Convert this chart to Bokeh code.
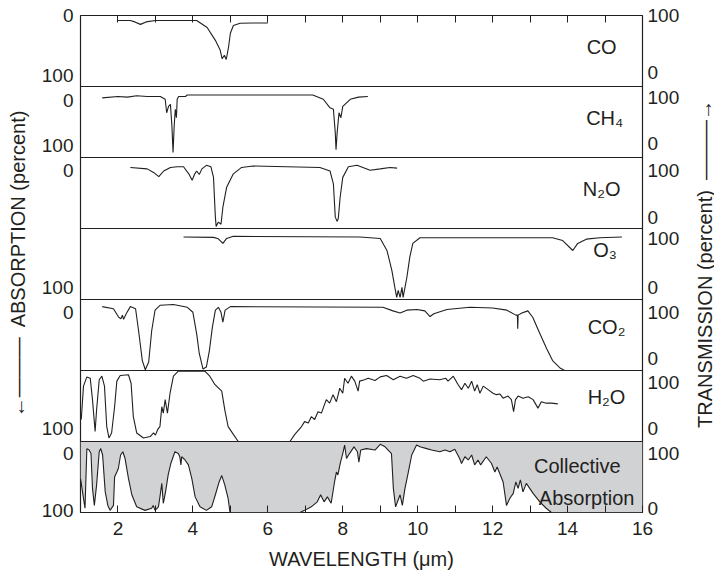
import math
from bokeh.plotting import figure
from bokeh.layouts import row
from bokeh.models import Range1d, LinearAxis, FixedTicker, CustomJSTickFormatter
from bokeh.embed import file_html
from bokeh.resources import INLINE
from bokeh.core.properties import value

# ---------------- data (wavelength in micrometres, absorption in % of panel) -------------
co_wl = [2.0, 2.33, 2.45, 2.6, 2.75, 3.0, 4.1, 4.38, 4.6, 4.73, 4.78, 4.84, 4.89, 4.95, 5.0, 5.08, 5.26, 5.6, 6.0]
co_ab = [7, 7, 9, 12.5, 9, 7, 7, 17, 35, 49, 61, 56, 62, 45, 25, 14, 11, 10.5, 10.5]

ch4_wl = [1.58, 2.0, 2.25, 2.5, 2.78, 3.13, 3.26, 3.30, 3.35, 3.40, 3.44, 3.47, 3.50, 3.53, 3.56, 3.58,
          3.62, 3.80, 3.85, 7.2, 7.48, 7.66, 7.75, 7.80, 7.82, 7.85, 7.90, 7.95, 8.0, 8.2, 8.42, 8.67]
ch4_ab = [16, 14, 15, 13, 14, 14, 18, 37, 28, 25, 56, 93, 56, 32, 44, 18,
          14, 14, 12, 12, 18, 30, 32, 65, 89, 65, 37, 44, 28, 18, 15, 14]

n2o_wl = [2.33, 2.78, 2.95, 3.09, 3.22, 3.40, 3.58, 3.75, 3.89, 3.98, 4.05, 4.10, 4.17, 4.24, 4.36, 4.48,
          4.55, 4.60, 4.62, 4.68, 4.75, 4.80, 4.90, 5.08, 5.30, 5.60, 7.39, 7.66, 7.75, 7.80, 7.85, 7.88,
          7.93, 8.0, 8.15, 8.38, 8.73, 9.0, 9.26, 9.45]
n2o_ab = [14, 16, 21, 27, 19, 14, 13, 13, 23, 32, 23, 19, 24, 16, 11, 13,
          28, 84, 97, 91, 94, 70, 42, 23, 14, 12, 14, 19, 37, 84, 90, 86,
          56, 28, 13, 11, 18, 16, 14, 15]

o3_wl = [3.75, 4.55, 4.68, 4.80, 4.90, 5.08, 8.46, 9.0, 9.18, 9.31, 9.39, 9.44, 9.48, 9.53, 9.58, 9.61,
         9.71, 9.79, 9.87, 10.06, 13.6, 13.87, 14.14, 14.27, 14.5, 14.86, 15.45]
o3_ab = [12, 12.5, 14.5, 21, 14, 11, 12, 14, 31, 59, 83, 97, 87, 97, 83, 97,
         69, 40, 21, 13, 13, 17, 31, 21, 15, 13, 12]

co2_wl = [1.58, 1.88, 2.02, 2.08, 2.12, 2.15, 2.22, 2.33, 2.47, 2.55, 2.65, 2.73, 2.82, 2.90, 2.99, 3.13,
          3.48, 3.85, 4.0, 4.10, 4.17, 4.27, 4.36, 4.44, 4.52, 4.60, 4.68, 4.75, 4.80, 4.86, 5.0, 9.07,
          9.34, 9.53, 9.71, 9.98, 10.19, 10.33, 10.43, 10.78, 11.39, 12.0, 12.38, 12.62, 12.66, 12.67,
          12.68, 12.78, 12.94, 13.07, 13.26, 13.44, 13.6, 13.79, 13.92]
co2_ab = [10, 13, 25, 27, 22, 28, 20, 10, 13, 44, 86, 99, 88, 44, 15, 8,
          7, 11, 18, 48, 76, 98, 95, 72, 39, 15, 11, 18, 32, 15, 10, 11,
          16, 19, 15, 14, 16, 24, 20, 14, 11, 12, 15, 22, 22, 41,
          22, 19, 16, 25, 48, 69, 86, 96, 100]

h2o_wl = [1.02, 1.08, 1.17, 1.26, 1.32, 1.39, 1.43, 1.50, 1.57, 1.64, 1.70, 1.76, 1.83, 1.91, 1.97, 2.06,
          2.28, 2.35, 2.41, 2.50, 2.68, 2.86, 2.95, 3.00, 3.06, 3.12, 3.17, 3.21, 3.26, 3.32, 3.39, 3.48,
          3.61, 3.74, 4.32, 4.45, 4.59, 4.77, 4.85, 4.94, 5.08, 5.21, 6.59, 6.72, 6.90, 6.98, 7.08, 7.16,
          7.25, 7.34, 7.43, 7.56, 7.65, 7.74, 7.83, 7.92, 8.00, 8.05, 8.14, 8.23, 8.32, 8.41, 8.45, 8.58,
          8.68, 8.86, 9.00, 9.17, 9.35, 9.53, 9.70, 9.88, 10.06, 10.15, 10.33, 10.59, 10.75, 10.81, 10.95,
          11.08, 11.17, 11.26, 11.35, 11.44, 11.52, 11.59, 11.66, 11.75, 11.88, 12.01, 12.10, 12.19, 12.28,
          12.41, 12.50, 12.56, 12.61, 12.68, 12.81, 12.95, 13.08, 13.21, 13.30, 13.43, 13.57, 13.74]
h2o_ab = [69, 22, 9, 11, 41, 86, 55, 13, 8, 22, 79, 95, 88, 51, 15, 7,
          6, 18, 65, 88, 95, 93, 88, 91, 83, 79, 51, 60, 41, 60, 32, 8,
          1, 1, 1, 8, 20, 29, 55, 79, 90, 100, 100, 90, 79, 72, 74, 65,
          69, 58, 60, 41, 46, 34, 44, 25, 32, 11, 18, 8, 15, 29, 15, 13,
          11, 14, 9, 7, 13, 8, 11, 7, 11, 15, 12, 13, 11, 15, 8,
          20, 27, 18, 25, 15, 29, 20, 32, 22, 27, 32, 34, 33, 39,
          36, 41, 58, 41, 36, 39, 37, 41, 53, 44, 46, 46, 47]

coll_wl = [1.00, 1.08, 1.12, 1.17, 1.23, 1.28, 1.32, 1.37, 1.43, 1.50, 1.54, 1.59, 1.66, 1.73, 1.79, 1.88,
           1.91, 1.97, 2.01, 2.07, 2.13, 2.19, 2.28, 2.37, 2.50, 2.72, 2.90, 2.94, 2.99, 3.08, 3.12, 3.17,
           3.21, 3.27, 3.34, 3.41, 3.52, 3.61, 3.65, 3.68, 3.70, 3.79, 3.88, 3.97, 4.06, 4.19, 4.36, 4.50,
           4.60, 4.70, 4.77, 4.85, 4.94, 4.99, 6.86, 6.98, 7.16, 7.32, 7.41, 7.50, 7.59, 7.69, 7.78, 7.83,
           7.87, 7.94, 8.00, 8.05, 8.10, 8.18, 8.30, 8.39, 8.43, 8.48, 8.63, 8.86, 9.00, 9.13, 9.30, 9.35,
           9.41, 9.48, 9.53, 9.59, 9.66, 9.75, 9.84, 9.97, 10.06, 10.24, 10.37, 10.59, 10.73, 10.86, 10.99,
           11.12, 11.17, 11.26, 11.35, 11.44, 11.52, 11.61, 11.68, 11.83, 11.97, 12.06, 12.12, 12.19, 12.28,
           12.37, 12.46, 12.55, 12.62, 12.68, 12.74, 12.81, 12.90, 13.08, 13.26, 13.43, 13.57, 16.0]
coll_ab = [52, 80, 94, 10, 12, 17, 66, 90, 61, 14.5, 10, 19, 71, 90, 97, 90,
           50, 43, 38, 19, 14.5, 24, 52, 75, 92, 97, 94, 90, 97, 92, 78, 59,
           87, 71, 47, 31, 14.5, 17, 21.5, 33, 21.5, 26, 33, 52, 78, 92, 97, 92,
           75, 57, 48, 61, 80, 100, 100, 97, 92, 85, 75, 85, 78, 87, 57, 43,
           47, 29, 17, 5, 24, 17, 7.5, 14.5, 29, 12, 10, 12, 4, 7.5, 17, 66,
           92, 82, 75, 90, 66, 43, 19, 5, 7.5, 10, 12, 14.5, 12, 14.5, 11,
           24, 31, 21.5, 26, 19, 33, 26, 33, 21.5, 31, 43, 36, 45, 57,
           90, 80, 73, 57, 66, 54, 71, 59, 73, 85, 94, 100, 100]

panel_curves = [(co_wl, co_ab), (ch4_wl, ch4_ab), (n2o_wl, n2o_ab), (o3_wl, o3_ab),
                (co2_wl, co2_ab), (h2o_wl, h2o_ab), (coll_wl, coll_ab)]

# panel labels: text, panel index, wavelength, absorption position
label_text = ["CO", "CH\u2084", "N\u2082O", "O\u2083", "CO\u2082", "H\u2082O", "Collective", "Absorption"]
label_panel = [0, 1, 2, 3, 4, 5, 6, 6]
label_wl = [14.91, 14.99, 14.91, 15.0, 15.04, 15.04, 14.26, 14.51]
label_ab = [45, 45, 44, 30, 39, 37, 34, 80]

# side tick labels (positions in stacked-panel units, 0 = bottom, 7 = top)
left_tick_pos = [0.028, 0.831, 1.183, 2.817, 3.169, 4.817, 5.169, 5.803, 6.155, 6.999]
left_tick_lab = ["100", "0", "100", "0", "100", "0", "100", "0", "100", "0"]
right_tick_pos = [0.056, 0.831, 1.183, 1.831, 2.169, 2.817, 3.169, 3.859, 4.155, 4.817,
                  5.197, 5.845, 6.197, 6.999]
right_tick_lab = ["0", "100", "0", "100", "0", "100", "0", "100", "0", "100", "0", "100", "0", "100"]
x_major = [2, 4, 6, 8, 10, 12, 14, 16]
x_minor = [3, 5, 7, 9, 11, 13, 15]
top_ticks = [2, 3, 4, 5, 6, 7, 8, 9, 10, 11, 12, 13, 14, 15]
separators = [1, 2, 3, 4, 5, 6]

left_title = "\u2190\u2014\u2014\u2014\u2002ABSORPTION (percent)"
right_title = "TRANSMISSION (percent)\u2002\u2014\u2014\u2014\u2192"
x_title = "WAVELENGTH (\u03bcm)"

# ---------------- figure -------------
FONT = "Liberation Sans"
INK = "#231f20"
GRAY = "#d1d2d4"
NP = 7
TOP, BOTTOM, HEIGHT = 15, 64, 576

fig = figure(width=682, height=HEIGHT, x_range=Range1d(1, 16), y_range=Range1d(0, NP),
             output_backend="svg", toolbar_location=None,
             min_border_left=80, min_border_right=39, min_border_top=TOP, min_border_bottom=BOTTOM)
fig.background_fill_color = "white"
fig.border_fill_color = "white"
fig.outline_line_color = INK
fig.outline_line_width = 1.2
fig.extra_y_ranges = {f"p{k}": Range1d(start=100 * (NP - k), end=-100 * k) for k in range(NP)}

fig.xgrid.visible = False
fig.ygrid.ticker = FixedTicker(ticks=separators)
fig.ygrid.grid_line_color = INK
fig.ygrid.grid_line_width = 1.2
fig.ygrid.level = "overlay"

fmt_code = """
let b = 0;
for (let i = 0; i < pos.length; i++) {
  if (Math.abs(pos[i] - tick) < Math.abs(pos[b] - tick)) b = i;
}
return lab[b];
"""

def style_side(ax, pos, lab, standoff):
    ax.ticker = FixedTicker(ticks=pos)
    ax.formatter = CustomJSTickFormatter(args=dict(pos=pos, lab=lab), code=fmt_code)
    ax.major_tick_in = 0
    ax.major_tick_out = 0
    ax.minor_tick_in = 0
    ax.minor_tick_out = 0
    ax.major_tick_line_color = None
    ax.minor_tick_line_color = None
    ax.axis_line_color = None
    ax.major_label_standoff = standoff
    ax.major_label_text_font = FONT
    ax.major_label_text_font_size = "19px"
    ax.major_label_text_color = INK
    ax.axis_label_text_font = FONT
    ax.axis_label_text_font_size = "20px"
    ax.axis_label_text_font_style = "normal"
    ax.axis_label_text_color = INK

la = fig.yaxis[0]
style_side(la, left_tick_pos, left_tick_lab, 7)
la.axis_label = left_title
la.axis_label_standoff = 10

ra = LinearAxis()
style_side(ra, right_tick_pos, right_tick_lab, 5)
fig.add_layout(ra, "right")

bx = fig.xaxis[0]
bx.ticker = FixedTicker(ticks=x_major, minor_ticks=x_minor)
bx.major_tick_in = 7
bx.major_tick_out = 0
bx.minor_tick_in = 7
bx.minor_tick_out = 0
bx.major_tick_line_color = INK
bx.minor_tick_line_color = INK
bx.axis_line_color = None
bx.major_label_standoff = 9
bx.major_label_text_font = FONT
bx.major_label_text_font_size = "19px"
bx.major_label_text_color = INK
bx.axis_label = x_title
bx.axis_label_standoff = 10
bx.axis_label_text_font = FONT
bx.axis_label_text_font_size = "20px"
bx.axis_label_text_font_style = "normal"
bx.axis_label_text_color = INK

tx = LinearAxis(ticker=FixedTicker(ticks=top_ticks),
                formatter=CustomJSTickFormatter(code="return '';"))
tx.major_tick_in = 7
tx.major_tick_out = 0
tx.minor_tick_line_color = None
tx.major_tick_line_color = INK
tx.axis_line_color = None
tx.major_label_standoff = 0
tx.major_label_text_font_size = "0px"
fig.add_layout(tx, "above")

# collective absorption shading (absorbed part above the transmission curve)
fig.varea(x=coll_wl, y1=coll_ab, y2=[0 for _ in coll_wl], y_range_name="p6",
          fill_color=GRAY, fill_alpha=1.0)

for k, (wl, ab) in enumerate(panel_curves):
    fig.line(wl, ab, y_range_name=f"p{k}", line_color=INK, line_width=1.1)

for t, k, xw, ya in zip(label_text, label_panel, label_wl, label_ab):
    fig.text(x=[xw], y=[ya], text=[t], y_range_name=f"p{k}",
             text_font=value(FONT), text_font_size="20px", text_color=INK,
             text_align="center", text_baseline="middle")

# narrow strip on the right that carries the TRANSMISSION title (reading bottom-to-top)
side = figure(width=32, height=HEIGHT, x_range=Range1d(0, 1), y_range=Range1d(0, 1),
              output_backend="svg", toolbar_location=None, x_axis_location=None,
              min_border_left=31, min_border_right=0, min_border_top=TOP, min_border_bottom=BOTTOM)
side.outline_line_color = None
side.background_fill_color = "white"
side.border_fill_color = "white"
side.xgrid.visible = False
side.ygrid.visible = False
sa = side.yaxis[0]
sa.ticker = FixedTicker(ticks=[])
sa.major_tick_in = 0
sa.major_tick_out = 0
sa.minor_tick_in = 0
sa.minor_tick_out = 0
sa.major_tick_line_color = None
sa.minor_tick_line_color = None
sa.axis_line_color = None
sa.major_label_text_font_size = "0px"
sa.major_label_standoff = 0
sa.axis_label = right_title
sa.axis_label_standoff = -2
sa.axis_label_text_font = FONT
sa.axis_label_text_font_size = "20px"
sa.axis_label_text_font_style = "normal"
sa.axis_label_text_color = INK

p = row(fig, side, spacing=0)

open("out.html", "w").write(file_html(p, INLINE))
